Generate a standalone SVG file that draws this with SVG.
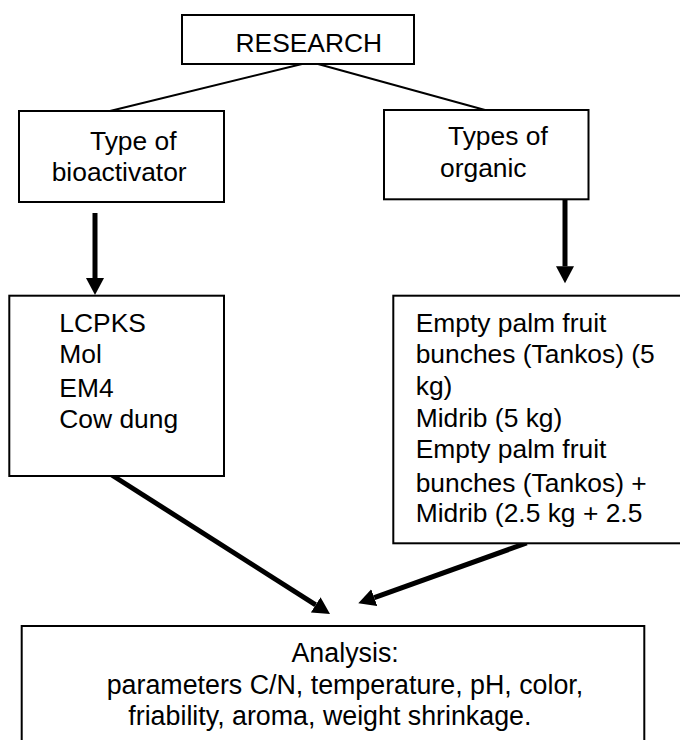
<svg xmlns="http://www.w3.org/2000/svg" width="680" height="740" viewBox="0 0 680 740">
<style>
.box{fill:#fff;stroke:#000;stroke-width:2}
.t{font-family:"Liberation Sans",Arial,sans-serif;font-size:26.4px;fill:#000}
.thin{stroke:#000;stroke-width:2;fill:none}
.thick{stroke:#000;stroke-width:5;fill:none;marker-end:url(#ah)}
</style>
<defs>
<marker id="ah" markerUnits="userSpaceOnUse" markerWidth="18" markerHeight="18" refX="0" refY="9" orient="auto">
<path d="M0,0 L17,9 L0,18 z" fill="#000"/>
</marker>
</defs>
<rect width="680" height="740" fill="#fff"/>
<g id="connectors">
<line class="thin" x1="302" y1="64" x2="110" y2="111"/>
<line class="thin" x1="318" y1="64" x2="485" y2="110"/>
<line class="thick" x1="95" y1="213" x2="95" y2="278"/>
<line class="thick" x1="565" y1="199" x2="565" y2="266.3"/>
<line class="thick" x1="111.7" y1="475" x2="315.7" y2="604.9"/>
<line class="thick" x1="526.7" y1="543" x2="374.3" y2="597.6"/>
</g>
<g id="research">
<rect class="box" x="182" y="15" width="232" height="49"/>
<text class="t" x="235.5" y="52.3">RESEARCH</text>
</g>
<g id="bioactivator">
<rect class="box" x="19" y="111" width="205" height="91"/>
<text class="t" x="90" y="150">Type of</text>
<text class="t" x="51.7" y="180.7">bioactivator</text>
</g>
<g id="organic">
<rect class="box" x="384" y="110" width="204.5" height="89.3"/>
<text class="t" x="448" y="145">Types of</text>
<text class="t" x="440" y="177.3">organic</text>
</g>
<g id="bioactivator-list">
<rect class="box" x="9.3" y="295.7" width="214.7" height="180.3"/>
<text class="t" x="59.3" y="331.7">LCPKS</text>
<text class="t" x="59.3" y="363.3">Mol</text>
<text class="t" x="59.3" y="397">EM4</text>
<text class="t" x="59.3" y="428.3">Cow dung</text>
</g>
<g id="organic-list">
<rect class="box" x="393.3" y="295.7" width="300" height="247.6"/>
<text class="t" x="415.7" y="331.7">Empty palm fruit</text>
<text class="t" x="415.7" y="363">bunches (Tankos) (5</text>
<text class="t" x="415.7" y="394.5">kg)</text>
<text class="t" x="415.7" y="426.5">Midrib (5 kg)</text>
<text class="t" x="415.7" y="458.3">Empty palm fruit</text>
<text class="t" x="415.7" y="491.5">bunches (Tankos) +</text>
<text class="t" x="415.7" y="521.7">Midrib (2.5 kg + 2.5</text>
</g>
<g id="analysis">
<rect class="box" x="21.7" y="626" width="622.6" height="130"/>
<text class="t" x="291.5" y="661.7" style="font-size:26.8px">Analysis:</text>
<text class="t" x="106.7" y="694" style="font-size:26.8px">parameters C/N, temperature, pH, color,</text>
<text class="t" x="128.3" y="725" style="font-size:26.8px">friability, aroma, weight shrinkage.</text>
</g>
</svg>
